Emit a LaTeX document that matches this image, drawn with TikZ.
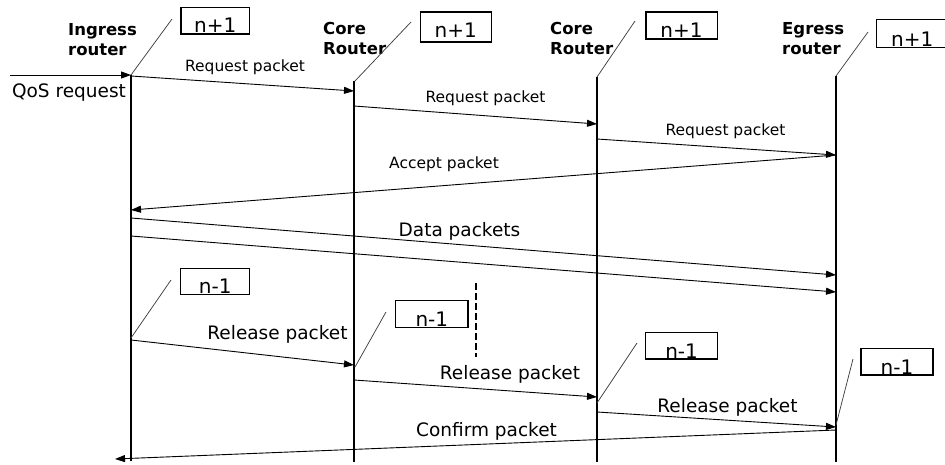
\documentclass[tikz,border=0pt]{standalone}
\usepackage{fontspec}
\setmainfont{DejaVu Sans}
\usetikzlibrary{arrows.meta}
\begin{document}
\begin{tikzpicture}[x=1pt,y=-1pt,
  life/.style={line width=1.2pt},
  msg/.style={line width=0.9pt,-{Triangle[length=10pt,width=7pt]}},
  diag/.style={line width=0.75pt, black!75},
  nbox/.style={draw, line width=1.4pt, inner sep=0pt, anchor=south west, font=\fontsize{20}{20}\selectfont},
  small/.style={font=\fontsize{15.5}{18}\selectfont, inner sep=0pt, anchor=base},
  big/.style={font=\fontsize{18.5}{22}\selectfont, inner sep=0pt, anchor=base},
  rname/.style={font=\bfseries\fontsize{16.5}{20}\selectfont, align=left, inner sep=0pt, anchor=north west},
  dashline/.style={line width=1.2pt, dash pattern=on 7pt off 3pt}
]
\useasboundingbox (0,0) rectangle (945,464);
\clip (0,0) rectangle (945,464);

% lifelines
\coordinate (Itop) at (131,75);  \coordinate (Ibot) at (131,461);
\coordinate (Atop) at (354,81);  \coordinate (Abot) at (354,462);
\coordinate (Btop) at (597,77);  \coordinate (Bbot) at (597,462);
\coordinate (Etop) at (836,76);  \coordinate (Ebot) at (836,462);
\draw[life] (Itop) -- (Ibot);
\draw[life] (Atop) -- (Abot);
\draw[life] (Btop) -- (Bbot);
\draw[life] (Etop) -- (Ebot);

% router names
\node[rname] (lI) at (68,23) {Ingress\\router};
\node[rname] (lA) at (323,22) {Core\\Router};
\node[rname] (lB) at (550,22) {Core\\Router};
\node[rname] (lE) at (782,22) {Egress\\router};

% n+1 boxes
\node[nbox, minimum width=68.4pt, text height=25.2pt, text depth=1.2pt] (p1) at (180.3,34.7) {n+1};
\node[nbox, minimum width=71pt, text height=25.2pt, text depth=4.8pt] (p2) at (419.5,42.8) {n+1};
\node[nbox, minimum width=71.3pt, text height=25.2pt, text depth=1.5pt] (p3) at (645.2,39.5) {n+1};
\node[nbox, minimum width=71pt, text height=26.4pt, text depth=1.6pt] (p4) at (876,48.3) {n+1};

% diagonals to n+1 boxes
\coordinate (dI) at (172,19);
\coordinate (dA0) at (355,81); \coordinate (dA) at (411,22);
\coordinate (dB) at (635,21);
\coordinate (dE) at (868,32);
\draw[diag] (Itop) -- (dI);
\draw[diag] (dA0) -- (dA);
\draw[diag] (Btop) -- (dB);
\draw[diag] (Etop) -- (dE);

% QoS request
\coordinate (qs) at (10,75);
\draw[msg] (qs) -- (Itop);
\node[big] (tq) at (69,97) {QoS request};

% request packets
\coordinate (r1s) at (131,76);  \coordinate (r1e) at (354,91);
\coordinate (r2s) at (354,106); \coordinate (r2e) at (597,124);
\coordinate (r3s) at (597,139); \coordinate (r3e) at (836,155);
\draw[msg] (r1s) -- (r1e);
\draw[msg] (r2s) -- (r2e);
\draw[msg] (r3s) -- (r3e);
\node[small] (t1) at (245,71) {Request packet};
\node[small] (t2) at (485.5,102) {Request packet};
\node[small] (t3) at (725.5,135) {Request packet};

% accept packet
\coordinate (as) at (836,155); \coordinate (ae) at (131,210);
\draw[msg] (as) -- (ae);
\node[small] (ta) at (444,168) {Accept packet};

% data packets
\coordinate (d1s) at (131,218); \coordinate (d1e) at (836,275);
\coordinate (d2s) at (131,236); \coordinate (d2e) at (836,292);
\draw[msg] (d1s) -- (d1e);
\draw[msg] (d2s) -- (d2e);
\node[big] (td) at (459.5,236) {Data packets};

% n-1 boxes
\node[nbox, minimum width=69pt, text height=24.7pt, text depth=1pt] (m1) at (180,295) {n-1};
\node[nbox, minimum width=72.3pt, text height=25.7pt, text depth=1.3pt] (m2) at (395,328) {n-1};
\node[nbox, minimum width=71.7pt, text height=25.4pt, text depth=1pt] (m3) at (645,359.7) {n-1};
\node[nbox, minimum width=72pt, text height=25.4pt, text depth=1pt] (m4) at (860.3,375.7) {n-1};

% diagonals to n-1 boxes
\coordinate (eI0) at (131,338); \coordinate (eI) at (171,280);
\coordinate (eA0) at (355,367); \coordinate (eA) at (386,312);
\coordinate (eB0) at (597,403); \coordinate (eB) at (637,343);
\coordinate (eE0) at (836,425); \coordinate (eE) at (853,359);
\draw[diag] (eI0) -- (eI);
\draw[diag] (eA0) -- (eA);
\draw[diag] (eB0) -- (eB);
\draw[diag] (eE0) -- (eE);

% dashed marker
\coordinate (dsh1) at (476,283); \coordinate (dsh2) at (476,357);
\draw[dashline] (dsh1) -- (dsh2);

% release packets
\coordinate (l1s) at (131,340); \coordinate (l1e) at (354,365);
\coordinate (l2s) at (354,380); \coordinate (l2e) at (597,397);
\coordinate (l3s) at (597,412); \coordinate (l3e) at (836,427);
\draw[msg] (l1s) -- (l1e);
\draw[msg] (l2s) -- (l2e);
\draw[msg] (l3s) -- (l3e);
\node[big] (u1) at (277.5,339) {Release packet};
\node[big] (u2) at (510,379) {Release packet};
\node[big] (u3) at (727.5,412) {Release packet};

% confirm packet
\coordinate (cs) at (836,430); \coordinate (ce) at (115,459);
\draw[msg] (cs) -- (ce);
\node[big] (tc) at (486.5,436) {Confirm packet};
\end{tikzpicture}
\end{document}
